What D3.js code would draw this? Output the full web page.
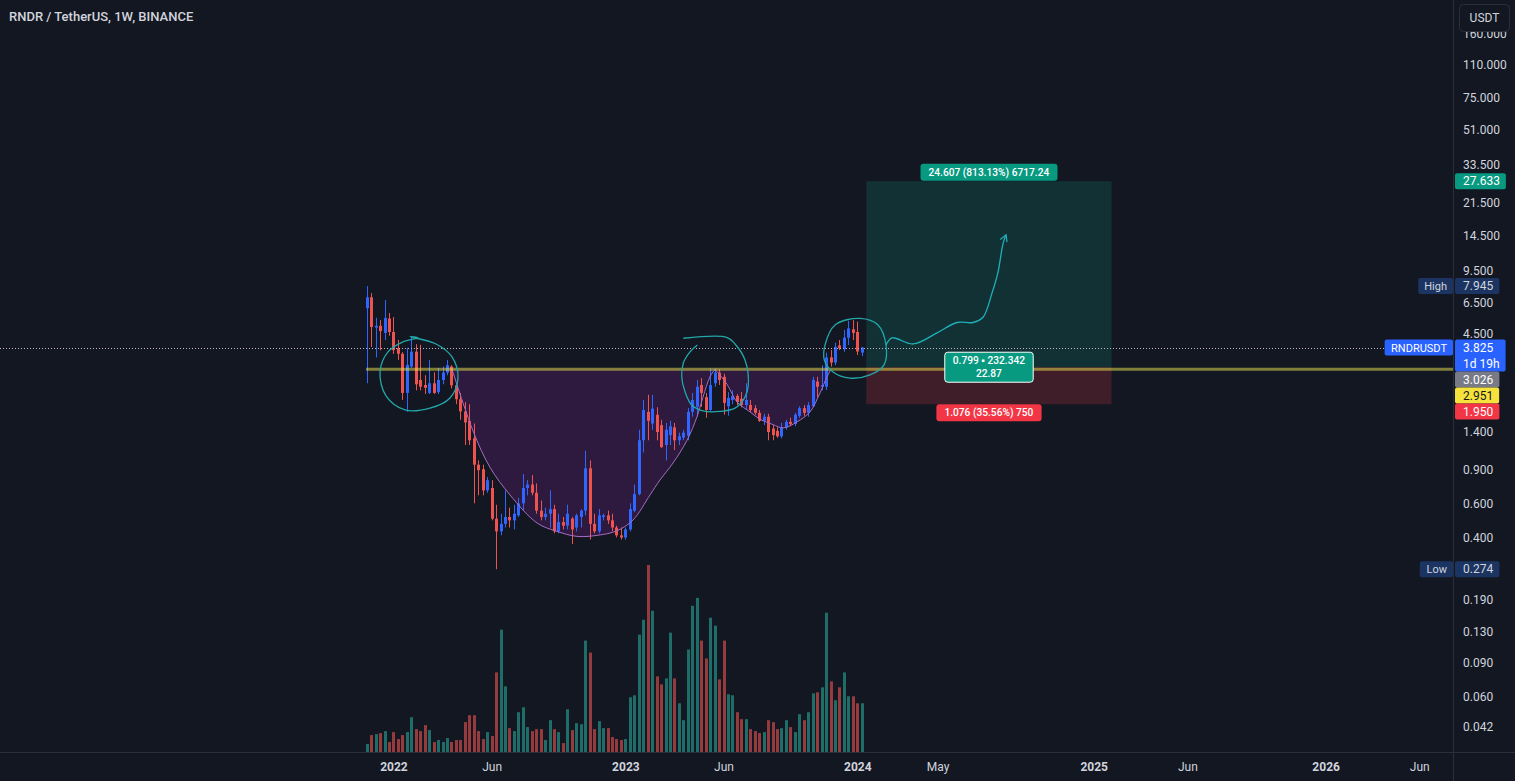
<!DOCTYPE html>
<html><head><meta charset="utf-8">
<script src="https://cdn.jsdelivr.net/npm/d3@7/dist/d3.min.js"></script>
<style>
html,body{margin:0;padding:0;background:#131722;overflow:hidden;}
svg{display:block;font-family:Roboto,"Liberation Sans",Arial,sans-serif;}
</style></head><body>
<svg id="c" width="1515" height="781"></svg>
<script>
// ---------------- DATA ----------------
const title = "RNDR / TetherUS, 1W, BINANCE";
const firstWeek = "2021-11-22";   // weekly candles, Monday open
const opens  = [6.10,6.95,4.85,4.95,4.55,5.40,4.60,3.80,3.55,2.23, 3.05,3.64,2.60,2.45,2.23,2.50,2.25,2.60,2.84,3.05,
 2.44,2.07,1.79,1.60,1.30,0.95,0.90,0.70,0.72,0.50, 0.43,0.47,0.51,0.49,0.52,0.60,0.72,0.75,0.68,0.55,
 0.51,0.53,0.56,0.43,0.48,0.46,0.50,0.45,0.51,0.55, 0.91,0.47,0.43,0.51,0.52,0.49,0.45,0.41,0.40,0.44,
 0.55,0.67,1.27,1.78,1.55,1.72,1.52,1.20,1.35,1.48, 1.27,1.31,1.34,1.78,1.89,2.45,2.12,1.82,2.50,2.84,
 2.70,1.90,2.05,2.15,2.08,1.93,1.93,1.86,1.76,1.60, 1.68,1.46,1.42,1.33,1.48,1.58,1.54,1.70,1.86,1.76,
 1.90,2.55,2.40,2.40,3.40,3.20,3.92,3.75,4.30,4.75, 4.60,3.60];
const highs  = [7.945,7.30,5.45,5.30,6.73,5.77,5.50,4.18,3.62,3.80, 4.33,3.98,3.95,2.75,3.30,2.85,3.00,3.05,3.30,3.10,
 2.47,2.23,2.00,1.95,1.55,1.00,0.95,0.82,0.79,0.59, 0.53,0.70,0.57,0.59,0.64,0.85,0.79,0.84,0.76,0.62,
 0.57,0.70,0.59,0.53,0.51,0.59,0.51,0.53,0.56,1.12, 1.00,0.53,0.56,0.53,0.55,0.53,0.46,0.45,0.45,0.60,
 0.75,1.44,2.05,2.18,2.18,1.88,1.62,1.56,1.60,1.56, 1.39,1.44,1.86,2.23,2.60,2.66,2.23,2.98,2.98,2.95,
 2.80,2.25,2.30,2.20,2.25,2.50,2.05,1.93,1.82,1.74, 1.74,1.52,1.48,1.56,1.62,1.66,1.76,1.90,1.93,2.00,
 2.70,2.70,3.10,3.60,3.71,4.05,4.18,4.71,5.25,5.30, 5.20,3.85];
const lows   = [2.50,3.85,3.40,3.70,4.18,4.40,3.55,3.30,2.05,1.78, 3.00,2.30,2.30,2.20,2.20,2.20,2.20,2.47,2.75,2.35,
 1.95,1.62,1.20,1.20,0.60,0.66,0.66,0.68,0.49,0.274, 0.41,0.45,0.45,0.44,0.51,0.55,0.66,0.66,0.53,0.49,
 0.49,0.45,0.42,0.42,0.44,0.44,0.37,0.43,0.45,0.52, 0.39,0.42,0.42,0.49,0.47,0.43,0.40,0.39,0.39,0.43,
 0.54,0.66,1.10,1.27,1.44,1.27,1.16,1.00,1.20,1.13, 1.20,1.27,1.27,1.68,1.68,1.89,1.66,1.78,2.40,2.45,
 1.72,1.70,1.95,1.93,1.88,1.82,1.78,1.72,1.58,1.52, 1.27,1.27,1.31,1.30,1.44,1.50,1.50,1.66,1.70,1.68,
 1.88,2.12,2.30,2.31,3.05,3.10,3.71,3.64,3.94,4.18, 3.50,3.45];
const closes = [6.95,4.88,4.95,4.65,5.44,4.60,3.71,3.55,2.23,3.11, 3.64,2.47,2.40,2.37,2.50,2.23,2.60,2.84,3.10,2.44,
 2.07,1.79,1.57,1.27,0.95,0.89,0.70,0.79,0.50,0.43, 0.47,0.51,0.49,0.53,0.60,0.72,0.75,0.68,0.55,0.51,
 0.53,0.56,0.43,0.48,0.46,0.53,0.44,0.52,0.55,0.91, 0.47,0.43,0.52,0.52,0.49,0.45,0.41,0.40,0.44,0.56,
 0.67,1.27,1.82,1.60,1.85,1.40,1.17,1.44,1.50,1.27, 1.33,1.39,1.78,2.05,2.40,2.23,1.82,2.45,2.84,2.60,
 1.98,2.10,2.15,2.00,1.93,2.05,1.82,1.76,1.60,1.68, 1.40,1.35,1.33,1.48,1.58,1.54,1.72,1.86,1.76,1.93,
 2.60,2.40,2.45,3.40,3.20,3.85,3.80,4.30,4.80,4.55, 3.65,3.825];
const volumes = [0.8,1.7,1.8,1.9,2.1,1.0,2.0,1.3,1.7,2.0, 3.5,2.3,2.1,2.7,2.2,1.0,1.2,1.0,1.4,1.0,
 1.2,1.2,3.0,3.7,3.7,2.1,1.3,2.0,1.6,8.0, 12.3,6.6,2.4,2.1,4.0,4.5,2.5,2.1,2.3,2.3,
 1.2,3.2,2.3,2.0,0.9,4.3,2.2,2.9,2.8,11.2, 10.0,2.3,3.1,2.4,2.4,1.5,1.3,1.2,1.3,5.5,
 5.7,11.8,13.3,18.8,14.2,7.6,6.8,7.4,12.0,7.4, 4.9,3.2,10.3,14.7,15.5,11.2,9.4,13.5,12.7,7.3,
 11.2,5.8,5.7,4.0,3.3,3.3,2.3,2.1,1.9,2.0, 3.2,3.0,2.3,2.4,3.2,2.5,2.0,3.8,3.2,4.0,
 5.9,6.0,6.5,14.0,7.1,5.2,6.5,8.0,5.6,5.6, 4.9,4.9];

const priceTicks = [160,110,75,51,33.5,21.5,14.5,9.5,6.5,4.5,1.4,0.9,0.6,0.4,0.19,0.13,0.09,0.06,0.042];
const timeTickDates  = ["2022-01-03","2022-06-06","2023-01-02","2023-06-05","2024-01-01","2024-05-06","2025-01-06","2025-06-02","2026-01-05","2026-06-01"];
const timeTickLabels = ["2022","Jun","2023","Jun","2024","May","2025","Jun","2026","Jun"];
const timeTickBold   = [true,false,true,false,true,false,true,false,true,false];

// drawings (week offset from firstWeek, price)
const levelLine = 2.951;
const lastPrice = 3.825;
const cup1 = [[19.13,2.951],[23.83,1.42],[27.65,0.92],[32.13,0.663],[38.18,0.475],[42.67,0.430],[47.15,0.405],[51.64,0.410],[56.12,0.433],[59.71,0.492],[63.52,0.663],[65.76,0.792],[68.68,0.969],[71.82,1.27],[74.06,1.68],[75.40,2.12],[76.97,2.70],[78.09,2.951]];
const cup2 = [[78.09,2.951],[80.78,2.47],[83.03,2.00],[85.94,1.78],[88.18,1.63],[91.10,1.53],[93.34,1.47],[96.48,1.58],[99.39,1.78],[101.64,2.23],[103.21,2.70],[104.10,2.951]];
const loop1 = [[9.71,4.35],[15.54,3.99],[19.13,3.42],[20.47,2.66],[18.68,2.10],[14.19,1.86],[8.59,1.82],[4.33,2.15],[2.99,2.87],[4.78,3.63],[8.14,4.09],[11.5,4.29]];
const loop2 = [[70.99,4.27],[80.72,4.32],[82.58,3.99],[84.82,3.30],[85.56,2.45],[84.82,2.12],[82.58,1.86],[79.22,1.79],[75.40,1.80],[72.87,1.93],[71.37,2.26],[70.63,2.70],[70.99,3.18],[72.49,3.63],[74.13,3.94]];
const loop3 = [[102.76,3.94],[105.0,5.00],[110.6,5.41],[114.64,5.00],[116.43,3.94],[115.99,3.11],[112.85,2.76],[108.37,2.66],[104.56,2.86],[102.6,3.30]];
const arrowPath = [[116.43,3.94],[117.78,4.29],[122.49,3.99],[127.87,4.55],[132.35,5.15],[135.94,5.15],[138.18,5.48],[140.2,7.31],[141.55,9.38],[142.67,13.16],[143.34,14.6]];

// long position tool
const posStart = "2024-01-15", posEnd = "2025-02-03";
const posEntry = 3.026, posTarget = 27.633, posStop = 1.950;
const posTopText = "24.607 (813.13%) 6717.24";
const posMidText = ["0.799 \u25AA 232.342", "22.87"];
const posBotText = "1.076 (35.56%) 750";

// ---------------- CHART ----------------
const W = 1515, H = 781, PR = 1453, PB = 752;
const DAY = 864e5, WEEK = 7 * DAY;
const t0 = Date.parse(firstWeek + "T00:00:00Z");
const dates = closes.map((_, i) => new Date(t0 + i * WEEK));
const wk = w => new Date(t0 + w * WEEK);
const pd = s => new Date(Date.parse(s + "T00:00:00Z"));

const x = d3.scaleTime().domain([new Date(t0), pd("2026-06-01")]).range([366.7, 1419.3]);
const y = d3.scaleLog().domain([110, 0.042]).range([65, 727]);
const yv = d3.scaleLinear().domain([0, d3.max(volumes)]).range([PB, 565]);

const UP = "#2f66ff", DOWN = "#ef5350";
const VUP = "rgba(38,166,154,0.6)", VDOWN = "rgba(239,83,80,0.6)";
const TXT = "#d1d4dc", BG = "#131722", LINE = "#2a2e39";

const svg = d3.select("#c");
svg.append("rect").attr("width", W).attr("height", H).attr("fill", BG);
const defs = svg.append("defs");
defs.append("clipPath").attr("id", "pane").append("rect").attr("width", PR).attr("height", PB);
defs.append("marker").attr("id", "arr").attr("viewBox", "0 0 10 10").attr("refX", 8).attr("refY", 5)
  .attr("markerWidth", 7).attr("markerHeight", 7).attr("orient", "auto")
  .append("path").attr("d", "M1,1 L8,5 L1,9").attr("fill", "none").attr("stroke", "#1fb0b8").attr("stroke-width", 1.4);

const pane = svg.append("g").attr("clip-path", "url(#pane)");

// position tool zones
const px0 = x(pd(posStart)), px1 = x(pd(posEnd));
pane.append("rect").attr("x", px0).attr("width", px1 - px0)
  .attr("y", y(posTarget)).attr("height", y(posEntry) - y(posTarget)).attr("fill", "rgba(8,153,129,0.2)");
pane.append("rect").attr("x", px0).attr("width", px1 - px0)
  .attr("y", y(posEntry)).attr("height", y(posStop) - y(posEntry)).attr("fill", "rgba(242,54,69,0.2)");

// cup fills
const cupArea = d3.area().x(d => x(wk(d[0]))).y0(y(levelLine)).y1(d => y(d[1])).curve(d3.curveCatmullRom);
const cupLine = d3.line().x(d => x(wk(d[0]))).y(d => y(d[1])).curve(d3.curveCatmullRom);
[cup1, cup2].forEach(c => {
  pane.append("path").attr("d", cupArea(c)).attr("fill", "rgba(156,39,176,0.2)");
});

// volume
pane.append("g").selectAll("rect").data(dates).join("rect")
  .attr("x", d => Math.round(x(d)) - 1).attr("width", 3)
  .attr("y", (d, i) => yv(volumes[i])).attr("height", (d, i) => PB - yv(volumes[i]))
  .attr("fill", (d, i) => closes[i] >= opens[i] ? VUP : VDOWN);

// candles
const cg = pane.append("g");
cg.selectAll("line").data(dates).join("line")
  .attr("x1", d => Math.round(x(d)) + 0.5).attr("x2", d => Math.round(x(d)) + 0.5)
  .attr("y1", (d, i) => y(highs[i])).attr("y2", (d, i) => y(lows[i]))
  .attr("stroke", (d, i) => closes[i] >= opens[i] ? UP : DOWN).attr("stroke-width", 1);
cg.selectAll("rect").data(dates).join("rect")
  .attr("x", d => Math.round(x(d)) - 1).attr("width", 3)
  .attr("y", (d, i) => y(Math.max(opens[i], closes[i])))
  .attr("height", (d, i) => Math.max(1, Math.abs(y(opens[i]) - y(closes[i]))))
  .attr("fill", (d, i) => closes[i] >= opens[i] ? UP : DOWN);

// cup outlines
[cup1, cup2].forEach(c => {
  pane.append("path").attr("d", cupLine(c)).attr("fill", "none").attr("stroke", "#a86cc4").attr("stroke-width", 1);
});

// horizontal level line
pane.append("line").attr("x1", x(pd("2021-11-21"))).attr("x2", PR)
  .attr("y1", y(levelLine)).attr("y2", y(levelLine))
  .attr("stroke", "rgba(240,230,80,0.5)").attr("stroke-width", 3);

// last price dotted line
pane.append("line").attr("x1", 0).attr("x2", PR).attr("y1", Math.round(y(lastPrice)) + 0.5).attr("y2", Math.round(y(lastPrice)) + 0.5)
  .attr("stroke", "#c8b4c8").attr("stroke-width", 1).attr("stroke-dasharray", "1,2");

// hand drawn loops and arrow
const loopLine = d3.line().x(d => x(wk(d[0]))).y(d => y(d[1]));
pane.append("path").attr("d", loopLine.curve(d3.curveCatmullRomClosed)(loop1)).attr("fill", "none").attr("stroke", "#22a6a6").attr("stroke-width", 1.3);
pane.append("path").attr("d", loopLine.curve(d3.curveCatmullRom)(loop2)).attr("fill", "none").attr("stroke", "#22a6a6").attr("stroke-width", 1.3);
pane.append("path").attr("d", loopLine.curve(d3.curveCatmullRomClosed)(loop3)).attr("fill", "none").attr("stroke", "#22a6a6").attr("stroke-width", 1.3);
pane.append("path").attr("d", loopLine.curve(d3.curveCatmullRom)(arrowPath)).attr("fill", "none").attr("stroke", "#1fb0b8").attr("stroke-width", 1.3)
  .attr("marker-end", "url(#arr)");

// position labels
function boxLabel(g, cx, cy, lines, bg, fg, border) {
  const t = g.append("text").attr("x", cx).attr("text-anchor", "middle").attr("font-size", 10.2).attr("fill", fg).attr("font-weight", 500);
  lines.forEach((s, i) => t.append("tspan").attr("x", cx).attr("y", cy + 3.5 + (i - (lines.length - 1) / 2) * 12.5).text(s));
  const bb = t.node().getBBox();
  g.insert("rect", "text").attr("x", bb.x - 8).attr("y", cy - lines.length * 6.5 - 2).attr("width", bb.width + 16)
    .attr("height", lines.length * 13 + 4).attr("rx", 3).attr("fill", bg)
    .attr("stroke", border || "none").attr("stroke-width", 1);
}
const pcx = (px0 + px1) / 2;
boxLabel(pane.append("g"), pcx, y(posTarget) - 9, [posTopText], "#089981", "#ffffff");
boxLabel(pane.append("g"), pcx, y(posEntry), posMidText, "#089981", "#ffffff", "#ffffff");
boxLabel(pane.append("g"), pcx, y(posStop) + 8.5, [posBotText], "#f23645", "#ffffff");

// ---------------- AXES ----------------
svg.append("line").attr("x1", PR + 0.5).attr("x2", PR + 0.5).attr("y1", 0).attr("y2", H).attr("stroke", LINE);
svg.append("line").attr("x1", 0).attr("x2", W).attr("y1", PB + 0.5).attr("y2", PB + 0.5).attr("stroke", LINE);

const ya = svg.append("g").attr("transform", `translate(${PR},0)`)
  .call(d3.axisRight(y).tickValues(priceTicks).tickFormat(d3.format(".3f")).tickSize(0).tickPadding(10));
ya.select(".domain").remove();
ya.selectAll("text").attr("fill", TXT).attr("font-size", 12).attr("font-family", "Roboto, Liberation Sans, Arial, sans-serif");

const xa = svg.append("g").attr("transform", `translate(0,${PB})`)
  .call(d3.axisBottom(x).tickValues(timeTickDates.map(pd)).tickFormat((d, i) => timeTickLabels[i]).tickSize(0).tickPadding(10));
xa.select(".domain").remove();
xa.selectAll("text").attr("fill", TXT).attr("font-size", 12).attr("font-family", "Roboto, Liberation Sans, Arial, sans-serif")
  .attr("font-weight", (d, i) => timeTickBold[i] ? 700 : 400);

// axis price labels with stacking
const axisLabels = [
  {v: posTarget, lines: ["27.633"], bg: "#089981", fg: "#ffffff"},
  {v: 7.945, lines: ["7.945"], bg: "#1c3461", fg: TXT, tag: "High"},
  {v: lastPrice, lines: ["3.825", "1d 19h"], bg: "#2962ff", fg: "#ffffff", tag: "RNDRUSDT", tagBg: "#2962ff"},
  {v: posEntry, lines: ["3.026"], bg: "#787b86", fg: "#ffffff"},
  {v: levelLine, lines: ["2.951"], bg: "#f5e23c", fg: "#131722"},
  {v: posStop, lines: ["1.950"], bg: "#f23645", fg: "#ffffff"},
  {v: 0.274, lines: ["0.274"], bg: "#1c3461", fg: TXT, tag: "Low"}
];
let prevBottom = -1e9;
const lg = svg.append("g");
axisLabels.forEach(L => {
  const h = 16 * L.lines.length;
  let top = Math.max(y(L.v) - 8, prevBottom);
  prevBottom = top + h;
  const g = lg.append("g");
  const t = g.append("text").attr("font-size", 12).attr("fill", L.fg);
  L.lines.forEach((s, i) => t.append("tspan").attr("x", PR + 10).attr("y", top + 12 + i * 16).text(s));
  const w = t.node().getBBox().width;
  g.insert("rect", "text").attr("x", PR + 2).attr("y", top).attr("width", w + 14).attr("height", h).attr("rx", 2).attr("fill", L.bg);
  if (L.tag) {
    const tg = lg.append("g");
    const tt = tg.append("text").attr("font-size", 11).attr("fill", L.tagBg ? "#ffffff" : TXT).attr("text-anchor", "end")
      .attr("x", PR - 6).attr("y", top + 12).text(L.tag);
    const tw = tt.node().getBBox().width;
    tg.insert("rect", "text").attr("x", PR - tw - 12).attr("y", top).attr("width", tw + 12).attr("height", 16).attr("rx", 2)
      .attr("fill", L.tagBg || "#1c3461");
  }
});

// currency button
svg.append("rect").attr("x", 1459.5).attr("y", 4.5).attr("width", 50).attr("height", 27).attr("rx", 4)
  .attr("fill", BG).attr("stroke", LINE);
svg.append("text").attr("x", 1484.5).attr("y", 22).attr("text-anchor", "middle").attr("font-size", 12).attr("fill", TXT).text("USDT");

// title
svg.append("text").attr("x", 9).attr("y", 21).attr("font-size", 13).attr("fill", TXT).attr("font-weight", 500).text(title);
</script>
</body></html>
